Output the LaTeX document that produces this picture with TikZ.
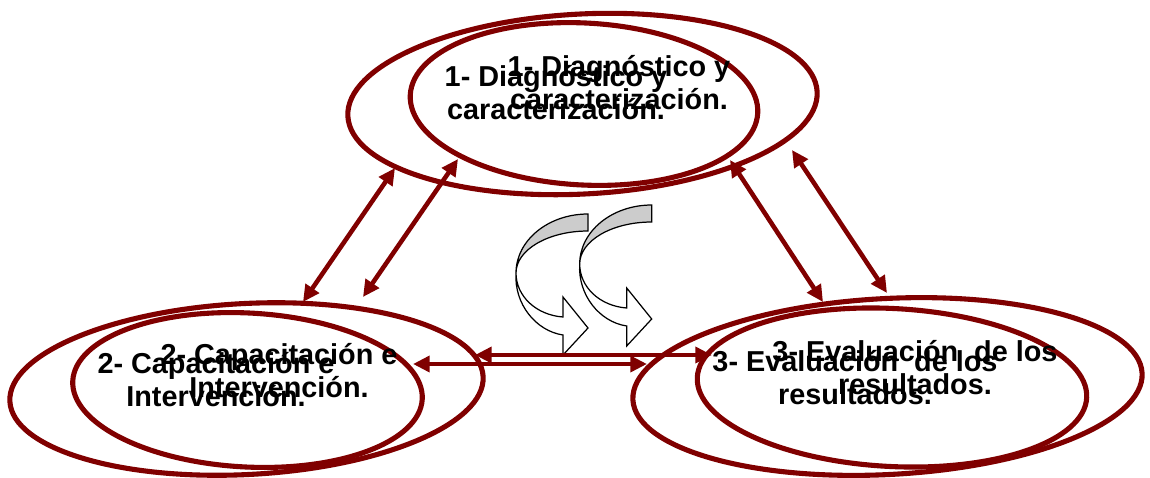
\documentclass[tikz,border=0pt]{standalone}
\usepackage{fontspec}
\setmainfont{Liberation Sans}
\usetikzlibrary{shapes.geometric,arrows.meta}
\definecolor{maroon}{RGB}{128,0,0}
\definecolor{shade}{RGB}{204,204,204}
\tikzset{
  curvarrow/.pic={
    \path[ribbon, fill=shade] (0,0) .. controls (-39.8,0) and (-72,26.4) .. (-72,59)
      .. controls (-72,35.8) and (-39.8,17) .. (0,17) -- cycle;
    \path[ribbon, fill=white] (-72,59) .. controls (-72,82) and (-52,101) .. (-25,103)
      -- (-25,83) -- (0,114) -- (-25,141) -- (-25,121)
      .. controls (-52,117) and (-74,90) .. (-72,59) -- cycle;
  }
}
\begin{document}
\begin{tikzpicture}[x=0.02cm,y=-0.02cm,
  ell/.style={ellipse, draw=maroon, line width=2.9pt, inner sep=0pt, outer sep=0pt},
  lbl/.style={font=\fontsize{16.4pt}{19pt}\selectfont\bfseries, align=center, inner sep=0pt, anchor=north, text=black},
  link/.style={draw=maroon, line width=2.6pt, {Triangle[length=9.5pt,width=9pt]}-{Triangle[length=9.5pt,width=9pt]}},
  ribbon/.style={draw=black, line width=0.7pt, line join=miter},
]
\useasboundingbox (0,0) rectangle (1150,477);

% ellipses
\node[ell, minimum width=9.40cm, minimum height=3.60cm, rotate=3] (e1o) at (582.5,104) {};
\node[ell, minimum width=6.96cm, minimum height=3.24cm, rotate=-3] (e1i) at (584,104) {};
\node[ell, minimum width=9.48cm, minimum height=3.42cm, rotate=3] (e2o) at (246.5,389) {};
\node[ell, minimum width=7.00cm, minimum height=3.08cm, rotate=-3] (e2i) at (247.5,390) {};
\node[ell, minimum width=10.2cm, minimum height=3.52cm, rotate=3] (e3o) at (887.5,386.5) {};
\node[ell, minimum width=7.80cm, minimum height=3.16cm, rotate=-3] (e3i) at (892,387.5) {};

% labels
\node[lbl] (t1a) at (556,50.7) {\rule{0pt}{20pt}1- Diagnóstico y\\caracterización.};
\node[lbl] (t1b) at (619,40.7) {\rule{0pt}{20pt}1- Diagnóstico y\\caracterización.};
\node[lbl] (t2a) at (216,337.7) {\rule{0pt}{20pt}2- Capacitación e\\Intervención.};
\node[lbl] (t2b) at (279,328.7) {\rule{0pt}{20pt}2- Capacitación e\\Intervención.};
\node[lbl] (t3a) at (855,335.7) {\rule{0pt}{20pt}3- Evaluación\ \ de los\\resultados.};
\node[lbl] (t3b) at (915,325.7) {\rule{0pt}{20pt}3- Evaluación\ \ de los\\resultados.};

% curved arrows
\pic at (588,214) {curvarrow};
\pic at (651.7,205) {curvarrow};

% connector ends
\coordinate (a1t) at (395,168); \coordinate (a1b) at (303,302);
\coordinate (a2t) at (458,159); \coordinate (a2b) at (363,297);
\coordinate (a3t) at (730,160); \coordinate (a3b) at (823,302);
\coordinate (a4t) at (792,150); \coordinate (a4b) at (887,293);
\coordinate (h1l) at (475,355); \coordinate (h1r) at (712,355);
\coordinate (h2l) at (413,364); \coordinate (h2r) at (647,364);

\draw[link] (a1t) -- (a1b);
\draw[link] (a2t) -- (a2b);
\draw[link] (a3t) -- (a3b);
\draw[link] (a4t) -- (a4b);
\draw[link] (h1l) -- (h1r);
\draw[link] (h2l) -- (h2r);
\end{tikzpicture}
\end{document}
